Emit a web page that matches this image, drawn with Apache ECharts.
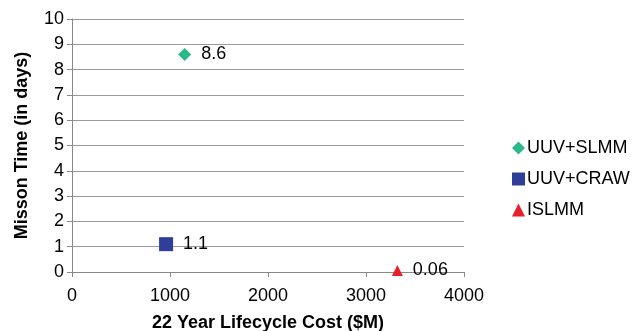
<!DOCTYPE html>
<html><head><meta charset="utf-8">
<script src="https://cdn.jsdelivr.net/npm/echarts@6/dist/echarts.min.js"></script>
<style>html,body{margin:0;padding:0;background:#fff}#c{width:632px;height:331px}</style>
</head><body><div id="c"></div>
<script>
const seriesNames = ['UUV+SLMM', 'UUV+CRAW', 'ISLMM'];
const costs = [1150, 960, 3320];
const missionDays = [8.6, 1.1, 0.06];
const labels = ['8.6', '1.1', '0.06'];
const xTicks = [0, 1000, 2000, 3000, 4000];
const yTicks = [0, 1, 2, 3, 4, 5, 6, 7, 8, 9, 10];

const symbols = ['diamond', 'rect', 'triangle'];
const sizes = [13, 14, 11];
const colors = ['#2bb88a', '#2f3f99', '#e8202a'];
const font = 'Liberation Sans, Arial, sans-serif';

const chart = echarts.init(document.getElementById('c'));
chart.setOption({
  animation: false,
  textStyle: { fontFamily: font },
  grid: { left: 72, right: 168, top: 19, bottom: 59, containLabel: false, outerBoundsMode: 'none' },
  legend: {
    orient: 'vertical', left: 507, top: 134, itemGap: 13,
    itemWidth: 13, itemHeight: 13,
    textStyle: { fontSize: 18, color: '#000', fontFamily: font, padding: [0, 0, 0, -3] },
    data: seriesNames.map((n, i) => ({ name: n, icon: ['diamond', 'rect', 'triangle'][i] }))
  },
  xAxis: {
    type: 'value', min: xTicks[0], max: xTicks[xTicks.length - 1], interval: 1000,
    name: '22 Year Lifecycle Cost ($M)', nameLocation: 'middle', nameGap: 42,
    nameTextStyle: { fontSize: 18, fontWeight: 'bold', color: '#000', fontFamily: font },
    axisLine: { show: true, lineStyle: { color: '#888', width: 1 } },
    axisTick: { show: true, length: 5, lineStyle: { color: '#888' } },
    axisLabel: { fontSize: 18, color: '#000', margin: 15, formatter: v => String(v) },
    splitLine: { show: false }
  },
  yAxis: {
    type: 'value', min: yTicks[0], max: yTicks[yTicks.length - 1], interval: 1,
    name: 'Misson Time (in days)', nameLocation: 'middle', nameGap: 41,
    nameTextStyle: { fontSize: 18, fontWeight: 'bold', color: '#000', fontFamily: font },
    axisLine: { show: true, lineStyle: { color: '#888', width: 1 } },
    axisTick: { show: true, length: 5, lineStyle: { color: '#888' } },
    axisLabel: { fontSize: 18, color: '#000', margin: 8 },
    splitLine: { show: true, lineStyle: { color: '#9a9a9a', width: 1.2 } }
  },
  series: seriesNames.map((n, i) => ({
    name: n, type: 'scatter', symbol: symbols[i], symbolSize: sizes[i],
    itemStyle: { color: colors[i], opacity: 1 },
    data: [[costs[i], missionDays[i]]],
    label: { show: true, position: 'right', distance: 10, formatter: () => labels[i],
      fontSize: 18, color: '#000', fontFamily: font }
  }))
});
</script></body></html>
